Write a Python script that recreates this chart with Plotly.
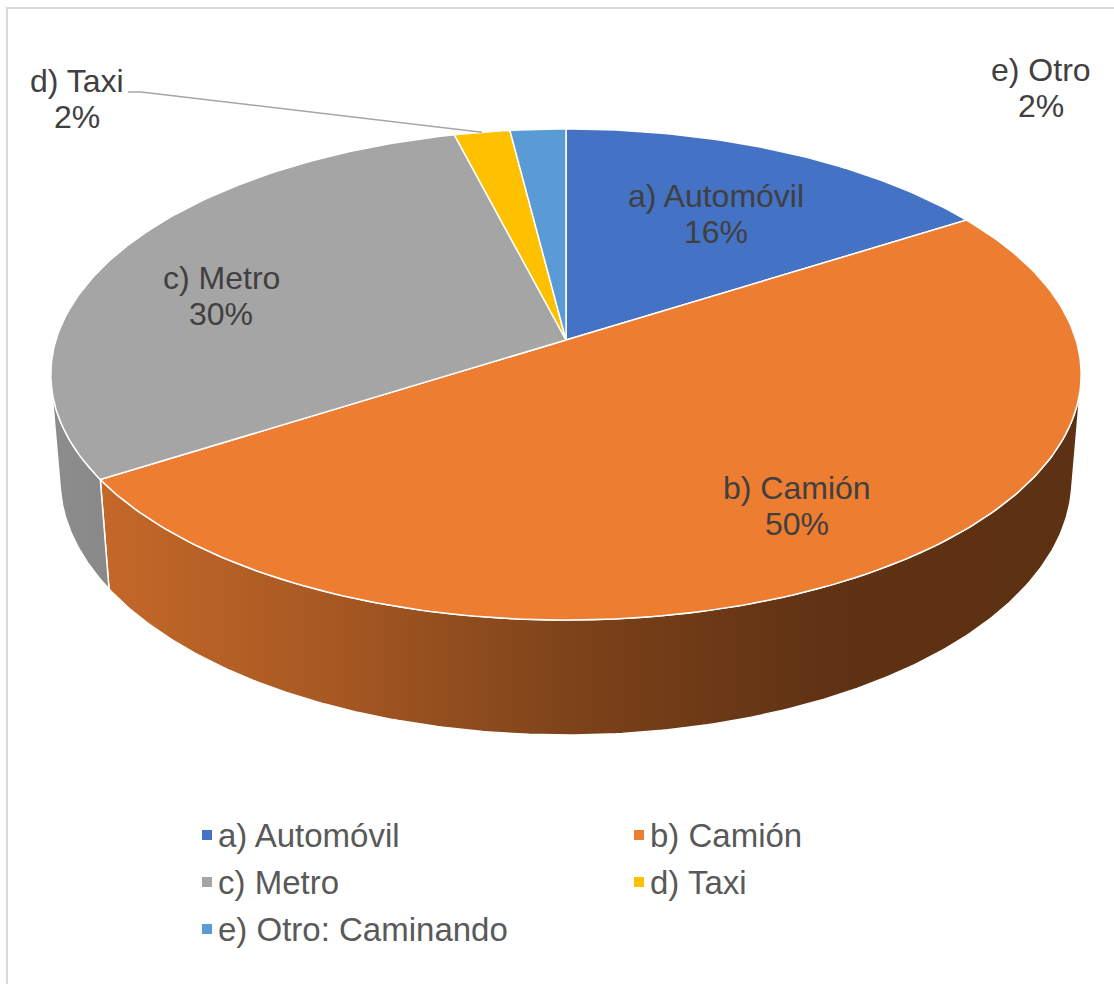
import numpy as np
import plotly.graph_objects as go

# ---- data ----
categories = ["a) Automóvil", "b) Camión", "c) Metro", "d) Taxi", "e) Otro: Caminando"]
label_names = ["a) Automóvil", "b) Camión", "c) Metro", "d) Taxi", "e) Otro"]
values = [16, 50, 30, 2, 2]
colors = ["#4472C4", "#ED7D31", "#A5A5A5", "#FFC000", "#5B9BD5"]

# ---- 3D pie camera (pixel space of a 1114x984 canvas) ----
W, H = 1114, 984
CX, CY = 566, 340          # screen position of the pie centre
TILT = np.radians(28.16)   # camera elevation
DIST = 6.274               # camera distance (in pie radii)
FOCAL = 3200               # focal length in pixels
THICK = 0.2352             # pie thickness (in pie radii)

FONT = "Liberation Sans, Arial, sans-serif"
LABEL_COLOR = "#404040"
LEGEND_COLOR = "#595959"


def project(theta, r=1.0, z=0.0):
    """Perspective projection of a point on the pie (theta clockwise from 12 o'clock)."""
    X = r * np.sin(theta)
    Y = -r * np.cos(theta)
    depth = DIST - Y * np.cos(TILT) - z * np.sin(TILT)
    px = CX + FOCAL * X / depth
    py = CY + FOCAL * (Y * np.sin(TILT) - z * np.cos(TILT)) / depth
    return px, py


# side lighting: brightness factor against screen x
SHADE_X = [60, 330, 566, 830, 1090]
SHADE_F = [0.85, 0.71, 0.53, 0.40, 0.39]


def hex_rgb(h):
    h = h.lstrip("#")
    return [int(h[i:i + 2], 16) for i in (0, 2, 4)]


def shaded(color, x):
    f = np.interp(x, SHADE_X, SHADE_F)
    r, g, b = (int(round(c * f)) for c in hex_rgb(color))
    return f"rgb({r},{g},{b})"


total = sum(values)
bounds = np.concatenate([[0], np.cumsum(values)]) / total * 2 * np.pi

# visible part of the cylinder wall (faces the camera)
y_min = 1.0 / (DIST * np.cos(TILT))
vis0 = np.arccos(-y_min)
vis1 = 2 * np.pi - vis0

fig = go.Figure()

# ---- side walls ----
for i, (a0, a1) in enumerate(zip(bounds[:-1], bounds[1:])):
    s0, s1 = max(a0, vis0), min(a1, vis1)
    if s1 <= s0:
        continue
    t = np.linspace(s0, s1, 240)
    xt, yt = project(t, 1.0, 0.0)
    xb, yb = project(t[::-1], 1.0, -THICK)
    xs = np.concatenate([xt, xb, xt[:1]])
    ys = np.concatenate([yt, yb, yt[:1]])
    xa, xz = xs.min(), xs.max()
    samples = np.linspace(xa, xz, 9)
    cscale = [[(sx - xa) / (xz - xa), shaded(colors[i], sx)] for sx in samples]
    fig.add_trace(go.Scatter(
        x=xs, y=ys, mode="lines", fill="toself",
        fillgradient=dict(type="horizontal", colorscale=cscale),
        line=dict(color="white", width=1.5),
        hoverinfo="skip", showlegend=False,
    ))

# ---- top faces ----
for i, (a0, a1) in enumerate(zip(bounds[:-1], bounds[1:])):
    n = max(8, int(400 * (a1 - a0) / (2 * np.pi)))
    t = np.linspace(a0, a1, n)
    xa, ya = project(t)
    xs = np.concatenate([[CX], xa, [CX]])
    ys = np.concatenate([[CY], ya, [CY]])
    fig.add_trace(go.Scatter(
        x=xs, y=ys, mode="lines", fill="toself", fillcolor=colors[i],
        line=dict(color="white", width=1.5),
        hoverinfo="skip", showlegend=False,
    ))

# ---- leader line for the taxi label ----
mid_taxi = (bounds[3] + bounds[4]) / 2
lx, ly = project(mid_taxi)
fig.add_trace(go.Scatter(
    x=[128, 141, lx], y=[92, 92, ly], mode="lines",
    line=dict(color="#A6A6A6", width=1.5),
    hoverinfo="skip", showlegend=False,
))

# ---- data labels ----
label_pos = [(716, 196), (797, 488), (221, 278), (77, 81), (1041, 70)]
annotations = []
for name, v, (x, y) in zip(label_names, values, label_pos):
    pct = f"{round(100 * v / total)}%"
    for k, txt in enumerate([name, pct]):
        annotations.append(dict(
            x=x, y=y + 36 * k, xref="x", yref="y", text=txt, showarrow=False,
            xanchor="center", yanchor="middle",
            font=dict(family=FONT, size=32, color=LABEL_COLOR),
        ))

# ---- legend (two columns) ----
leg_cols = [207, 639]
leg_row0, leg_step = 835, 47
for i, (cat, col) in enumerate(zip(categories, colors)):
    lx0 = leg_cols[i % 2]
    ly0 = leg_row0 + leg_step * (i // 2)
    fig.add_trace(go.Scatter(
        x=[lx0], y=[ly0], mode="markers",
        marker=dict(symbol="square", size=10, color=col),
        hoverinfo="skip", showlegend=False,
    ))
    annotations.append(dict(
        x=lx0 + 9, y=ly0, xref="x", yref="y", text=cat, showarrow=False,
        xanchor="left", yanchor="middle",
        font=dict(family=FONT, size=33, color=LEGEND_COLOR),
    ))

fig.update_layout(
    width=W, height=H,
    margin=dict(l=0, r=0, t=0, b=0),
    paper_bgcolor="white", plot_bgcolor="white",
    xaxis=dict(range=[0, W], visible=False, fixedrange=True),
    yaxis=dict(range=[H, 0], visible=False, fixedrange=True),
    annotations=annotations,
    shapes=[dict(type="rect", xref="x", yref="y", x0=7, y0=8, x1=W + 20, y1=H + 20,
                 line=dict(color="#D9D9D9", width=2), layer="below")],
    showlegend=False,
)

fig.write_html("out.html")
